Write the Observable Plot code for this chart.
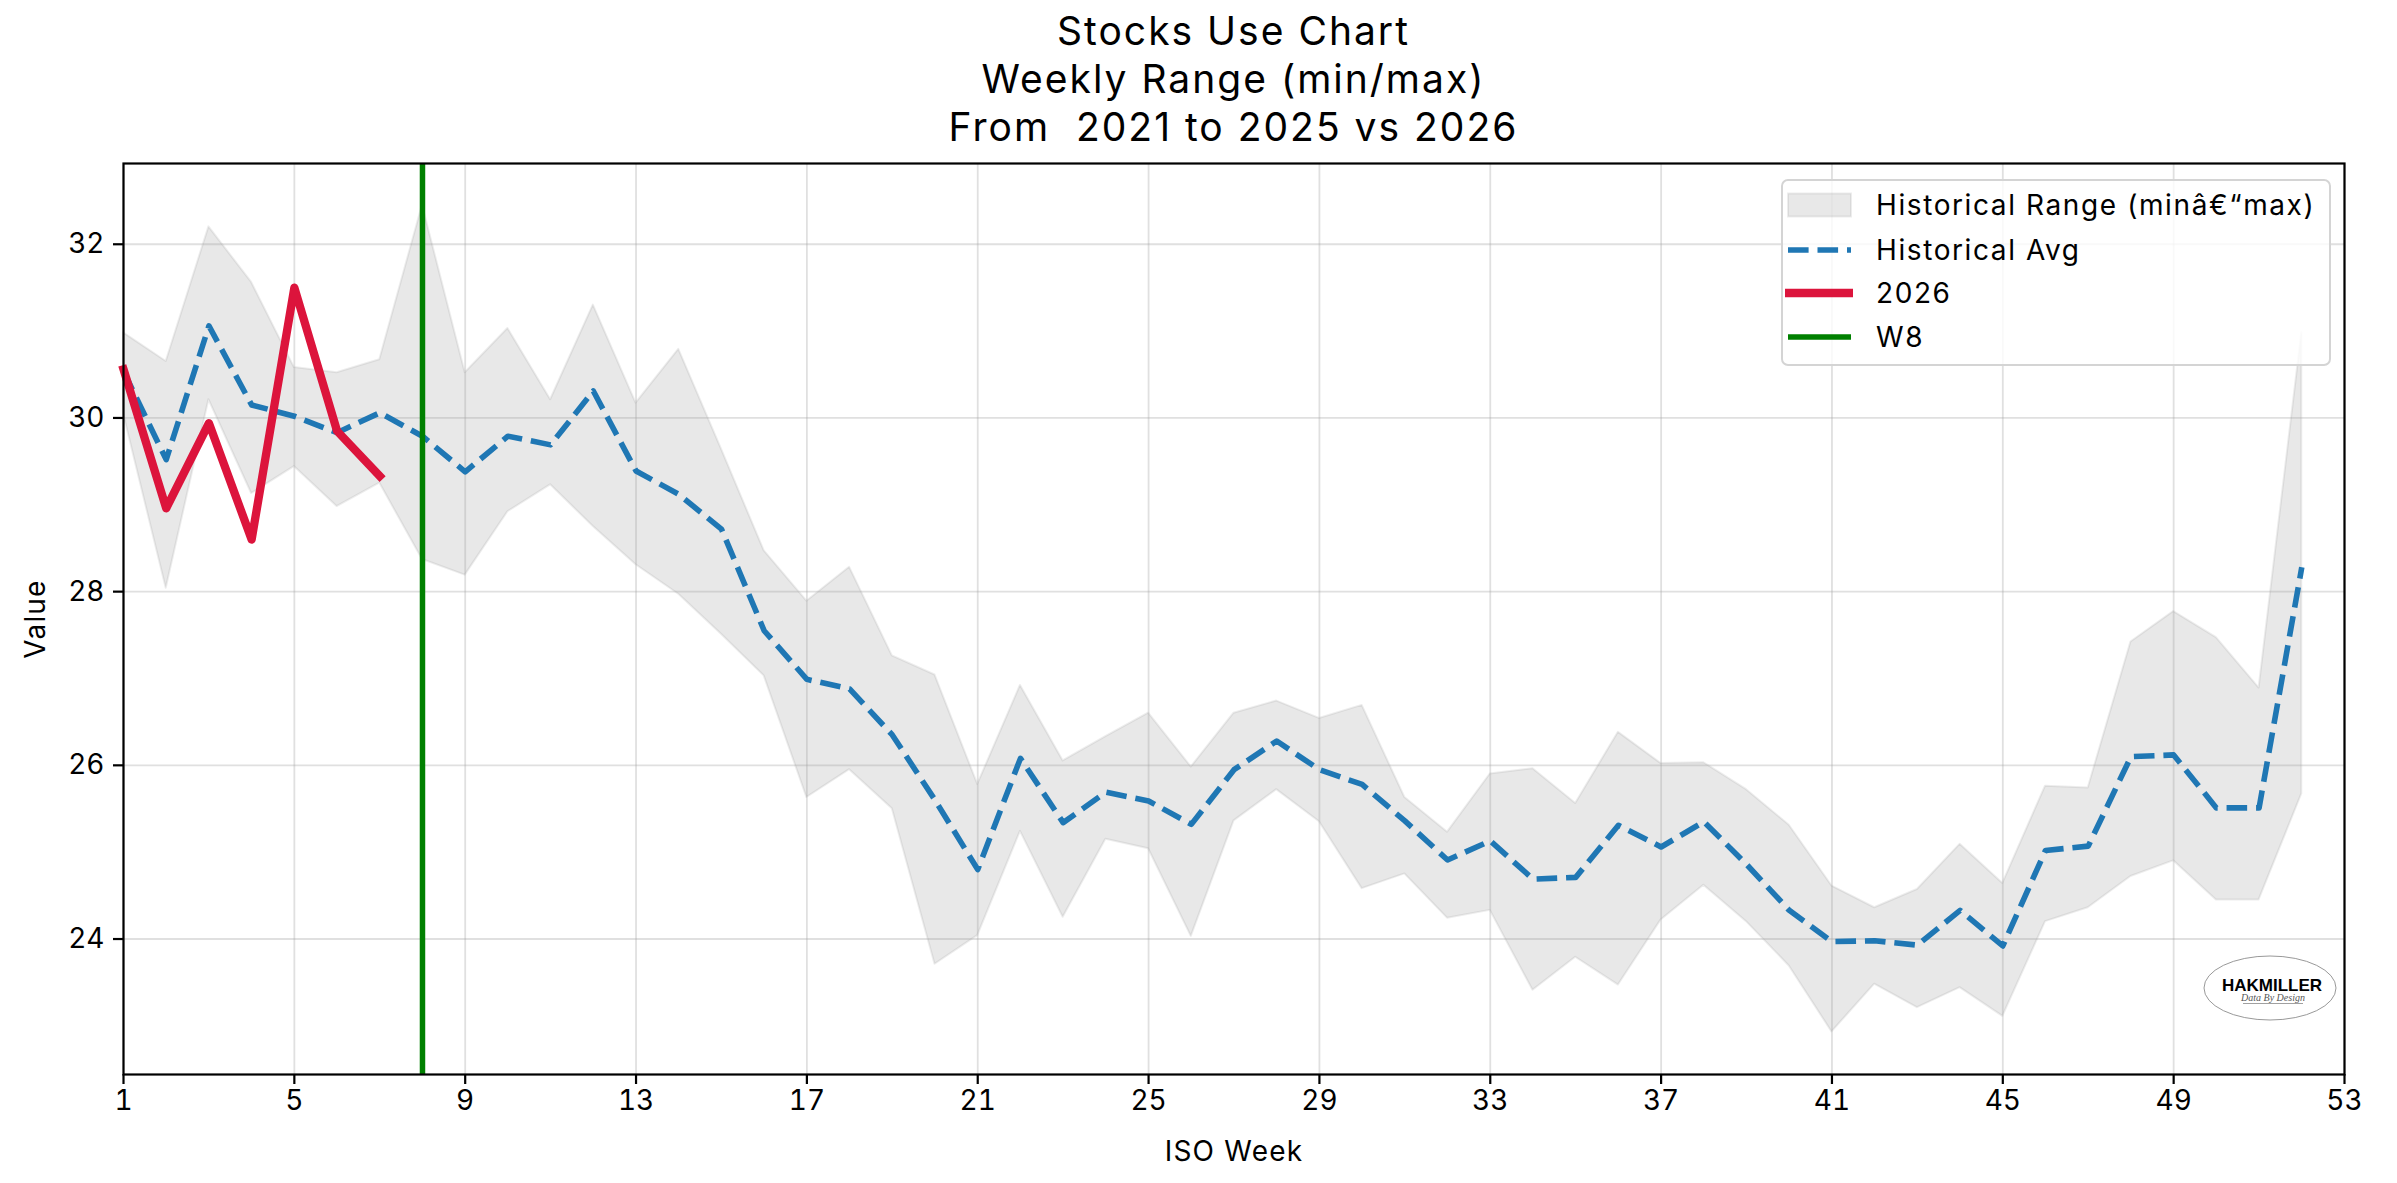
<!DOCTYPE html>
<html><head><meta charset="utf-8">
<script src="https://cdn.jsdelivr.net/npm/d3@7"></script>
<script src="https://cdn.jsdelivr.net/npm/@observablehq/plot@0.6"></script>
<style>
html,body{margin:0;padding:0;background:#fff;overflow:hidden;}
#page{position:relative;width:2397px;height:1183px;font-family:Inter,"DejaVu Sans",sans-serif;color:#000;background:#fff;}
#title{position:absolute;left:123px;width:2221px;top:7px;text-align:center;font-size:39px;letter-spacing:2px;line-height:48px;white-space:pre;}
#chart{position:absolute;left:0;top:150px;}
#legend{position:absolute;left:1781px;top:179px;}
#logo{position:absolute;left:2200px;top:950px;}
</style></head>
<body><div id="page">
<div id="title"></div>
<div id="chart"></div>
<div id="legend"></div>
<div id="logo"></div>
</div>
<script>
const titleLines = ["Stocks Use Chart", "Weekly Range (min/max)", "From  2021 to 2025 vs 2026"];
const weeks = [1,2,3,4,5,6,7,8,9,10,11,12,13,14,15,16,17,18,19,20,21,22,23,24,25,26,27,28,29,30,31,32,33,34,35,36,37,38,39,40,41,42,43,44,45,46,47,48,49,50,51,52];
const histMax = [30.98,30.65,32.2,31.56,30.58,30.52,30.67,32.45,30.52,31.03,30.21,31.30,30.17,30.79,29.64,28.47,27.89,28.28,27.26,27.04,25.78,26.92,26.05,26.33,26.60,25.98,26.60,26.74,26.54,26.69,25.63,25.23,25.90,25.96,25.56,26.38,26.02,26.03,25.72,25.31,24.61,24.36,24.57,25.09,24.64,25.76,25.74,27.42,27.77,27.47,26.89,30.98];
const histMin = [30.05,28.04,30.21,29.13,29.44,28.98,29.25,28.37,28.19,28.92,29.23,28.75,28.31,27.97,27.51,27.03,25.63,25.95,25.50,23.71,24.04,25.24,24.25,25.15,25.04,24.03,25.36,25.72,25.35,24.58,24.75,24.24,24.33,23.41,23.79,23.47,24.22,24.62,24.20,23.69,22.93,23.48,23.21,23.44,23.11,24.20,24.36,24.72,24.90,24.45,24.45,25.67];
const histAvg = [30.54,29.52,31.06,30.15,30.02,29.83,30.06,29.79,29.38,29.79,29.69,30.31,29.39,29.12,28.72,27.55,26.99,26.88,26.35,25.60,24.80,26.08,25.34,25.69,25.59,25.32,25.95,26.28,25.95,25.78,25.36,24.91,25.13,24.69,24.71,25.31,25.06,25.35,24.86,24.33,23.97,23.98,23.93,24.33,23.92,25.02,25.07,26.10,26.12,25.51,25.51,28.28];
const weeks2026 = [1,2,3,4,5,6,7];
const values2026 = [30.56,28.96,29.94,28.60,31.50,29.85,29.33];
const markerWeek = 8;
const xTicks = [1,5,9,13,17,21,25,29,33,37,41,45,49,53];
const yTicks = [24,26,28,30,32];
const legendLabels = ["Historical Range (min\u00e2\u20ac\u201cmax)", "Historical Avg", "2026", "W8"];

document.getElementById("title").textContent = titleLines.join("\n");

const hist = weeks.map((w,i)=>({week:w, min:histMin[i], max:histMax[i], avg:histAvg[i]}));
const cur = weeks2026.map((w,i)=>({week:w, value:values2026[i]}));

const FONT = "Inter, 'DejaVu Sans', sans-serif";
const chart = Plot.plot({
  width: 2397, height: 1033,
  marginTop: 13, marginBottom: 109, marginLeft: 123, marginRight: 53,
  style: {fontFamily: FONT, fontSize: "28px", background: "white", color: "black", overflow: "visible"},
  x: {domain: [1, 53]},
  y: {domain: [22.44, 32.93]},
  marks: [
    Plot.areaY(hist, {x: "week", y1: "min", y2: "max", fill: "#808080", fillOpacity: 0.18, stroke: "#808080", strokeOpacity: 0.14, strokeWidth: 2}),
    Plot.gridX(xTicks, {stroke: "#a0a0a0", strokeOpacity: 0.33, strokeWidth: 1.8}),
    Plot.gridY(yTicks, {stroke: "#a0a0a0", strokeOpacity: 0.33, strokeWidth: 1.8}),
    Plot.lineY(hist, {x: "week", y: "avg", stroke: "#1f77b4", strokeWidth: 5.6, strokeDasharray: "20.6 8.9", strokeLinecap: "butt", strokeLinejoin: "round"}),
    Plot.lineY(cur, {x: "week", y: "value", stroke: "#dc143c", strokeWidth: 8.3, strokeLinecap: "square", strokeLinejoin: "round"}),
    Plot.ruleX([markerWeek], {stroke: "#008000", strokeWidth: 5.5}),
    Plot.frame({stroke: "black", strokeWidth: 2.2}),
    Plot.axisX(xTicks, {tickSize: 10, tickPadding: 6, strokeWidth: 2.2, fontSize: 28, tickFormat: "d", label: "ISO Week", labelAnchor: "center", labelOffset: 86, labelArrow: "none"}),
    Plot.axisY(yTicks, {tickSize: 10, tickPadding: 9, strokeWidth: 2.2, fontSize: 28, tickFormat: "d", label: "Value", labelAnchor: "center", labelOffset: 98, labelArrow: "none"})
  ]
});
document.getElementById("chart").appendChild(chart);
d3.select(chart).selectAll("[aria-label='x-axis label'] text, [aria-label='y-axis label'] text").style("letter-spacing", "1.2px");

// legend
const lg = d3.select("#legend").append("svg").attr("width", 552).attr("height", 190)
  .style("font-family", FONT).style("font-size", "28px").style("letter-spacing", "1.6px");
lg.append("rect").attr("x", 1).attr("y", 1).attr("width", 548).attr("height", 185).attr("rx", 6)
  .attr("fill", "white").attr("fill-opacity", 0.8).attr("stroke", "#d4d4d4").attr("stroke-width", 2);
const rowY = [26, 71, 114, 158];
lg.append("rect").attr("x", 7).attr("y", rowY[0]-11.5).attr("width", 63).attr("height", 23)
  .attr("fill", "#808080").attr("fill-opacity", 0.18).attr("stroke", "#808080").attr("stroke-opacity", 0.14).attr("stroke-width", 2);
lg.append("line").attr("x1", 7).attr("x2", 70).attr("y1", rowY[1]).attr("y2", rowY[1])
  .attr("stroke", "#1f77b4").attr("stroke-width", 5.6).attr("stroke-dasharray", "20.6 8.9");
lg.append("line").attr("x1", 4).attr("x2", 72).attr("y1", rowY[2]).attr("y2", rowY[2])
  .attr("stroke", "#dc143c").attr("stroke-width", 8.3);
lg.append("line").attr("x1", 7).attr("x2", 70).attr("y1", rowY[3]).attr("y2", rowY[3])
  .attr("stroke", "#008000").attr("stroke-width", 5.5);
legendLabels.forEach((t, i) => {
  lg.append("text").attr("x", 95).attr("y", rowY[i]).attr("dy", "0.36em").text(t);
});

// logo
const lo = d3.select("#logo").append("svg").attr("width", 140).attr("height", 80);
lo.append("ellipse").attr("cx", 70).attr("cy", 38).attr("rx", 66).attr("ry", 32)
  .attr("fill", "white").attr("stroke", "#999").attr("stroke-width", 1);
lo.append("text").attr("x", 72).attr("y", 41).attr("text-anchor", "middle")
  .style("font-family", "'Liberation Sans', Arial, sans-serif").style("font-weight", "bold").style("font-size", "17px").text("HAKMILLER");
lo.append("text").attr("x", 73).attr("y", 51).attr("text-anchor", "middle")
  .style("font-family", "'Liberation Serif', serif").style("font-style", "italic").style("font-size", "10px").attr("fill", "#555").text("Data By Design");
lo.append("line").attr("x1", 43).attr("x2", 103).attr("y1", 53.5).attr("y2", 53.5).attr("stroke", "#888").attr("stroke-width", 0.8);
</script>
</body></html>
